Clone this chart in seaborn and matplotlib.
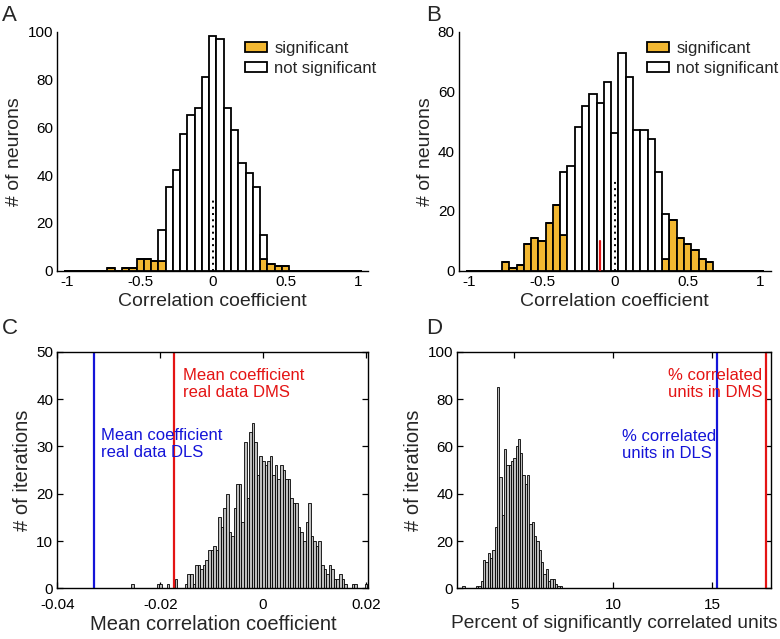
import numpy as np
import pandas as pd
import matplotlib
matplotlib.use("Agg")
import matplotlib.pyplot as plt
import seaborn as sns
from matplotlib.patches import Patch

sns.set_theme(style="white")
plt.rcParams["font.family"] = ["Liberation Sans", "DejaVu Sans"]

# ---------------- data ----------------
# Panel A: correlation coefficients (bin centres, counts)
a_bins = [-0.70, -0.65, -0.60, -0.55, -0.50, -0.45, -0.40, -0.35, -0.30, -0.25,
          -0.20, -0.15, -0.10, -0.05, 0.00, 0.05, 0.10, 0.15, 0.20, 0.25,
          0.30, 0.35, 0.40, 0.45, 0.50]
a_sig = [1, 0, 1, 1, 5, 5, 4, 4, 0, 0,
         0, 0, 0, 0, 0, 0, 0, 0, 0, 0,
         0, 5, 3, 2, 2]
a_nonsig = [0, 0, 0, 0, 0, 0, 0, 13, 35, 42,
            57, 65, 68, 81, 98, 97, 68, 59, 45, 41,
            35, 10, 0, 0, 0]

# Panel B
b_bins = [-0.75, -0.70, -0.65, -0.60, -0.55, -0.50, -0.45, -0.40, -0.35, -0.30,
          -0.25, -0.20, -0.15, -0.10, -0.05, 0.00, 0.05, 0.10, 0.15, 0.20,
          0.25, 0.30, 0.35, 0.40, 0.45, 0.50, 0.55, 0.60, 0.65]
b_sig = [3, 1, 2, 9, 11, 10, 16, 22, 12, 0,
         0, 0, 0, 0, 0, 0, 0, 0, 0, 0,
         0, 0, 4, 17, 11, 9, 7, 4, 3]
b_nonsig = [0, 0, 0, 0, 0, 0, 0, 0, 21, 35,
            48, 55, 59, 56, 63, 46, 73, 65, 47, 47,
            44, 33, 15, 0, 0, 0, 0, 0, 0]
b_mean = -0.1

# Panel C: shuffled mean correlation coefficients
c_start = -0.0257
c_width = 0.0005
c_counts = [1, 0, 0, 0, 0, 0, 0, 0, 0, 0,
            1, 1, 0, 0, 1, 0, 0, 2, 0, 0,
            0, 1, 3, 3, 1, 5, 5, 4, 5, 6,
            8, 8, 9, 8, 15, 13, 17, 20, 12, 11,
            17, 22, 22, 14, 31, 19, 33, 35, 31, 24,
            28, 27, 26, 27, 28, 24, 26, 23, 26, 25,
            23, 23, 19, 18, 18, 13, 12, 10, 14, 18,
            11, 10, 9, 10, 5, 4, 3, 5, 4, 2,
            2, 3, 2, 1, 0, 0, 1, 1, 0, 0,
            0, 1]
c_dls = -0.0328
c_dms = -0.0173

# Panel D: percent of significantly correlated units (shuffled)
d_start = 2.369
d_width = 0.117
d_counts = [1, 0, 0, 0, 0, 0, 1, 1, 3, 12,
            11, 15, 13, 16, 26, 85, 47, 31, 59, 52,
            52, 54, 55, 60, 63, 57, 48, 44, 48, 27,
            28, 22, 20, 16, 11, 6, 8, 3, 4, 4,
            2, 1, 1]
d_dls = 15.22
d_dms = 17.71

ORANGE = "#F2B731"
GRAY = "#BEBEBE"
BLUE = "#1414D8"
RED = "#E41414"
FS_TICK = 11
FS_LAB_TOP = 14
FS_LAB_BOT = 14.5
FS_TXT = 12

fig = plt.figure(figsize=(7.8, 6.39), dpi=100)
axA = fig.add_axes([0.0735, 0.5764, 0.3987, 0.374])
axB = fig.add_axes([0.5885, 0.5764, 0.3994, 0.374])
axC = fig.add_axes([0.0737, 0.0793, 0.3985, 0.3703])
axD = fig.add_axes([0.5863, 0.0793, 0.4018, 0.3703])


def corr_hist(ax, centers, sig, nonsig, ymax):
    n = len(centers)
    df = pd.DataFrame({
        "coef": list(centers) * 2,
        "count": list(sig) + list(nonsig),
        "group": ["significant"] * n + ["not significant"] * n,
    })
    sns.histplot(data=df, x="coef", weights="count", hue="group",
                 hue_order=["not significant", "significant"],
                 multiple="stack", binwidth=0.05, binrange=(-1.025, 1.025),
                 palette={"significant": ORANGE, "not significant": "white"},
                 edgecolor="black", linewidth=1.3, alpha=1, legend=False, ax=ax)
    ax.plot([0, 0], [0, 30], color="black", linestyle=(0, (1, 2.2)), lw=1.4)
    ax.set_xlim(-1.07, 1.07)
    ax.set_ylim(0, ymax)
    ax.set_xticks([-1, -0.5, 0, 0.5, 1])
    ax.set_xticklabels(["-1", "-0.5", "0", "0.5", "1"])
    ax.set_yticks(np.arange(0, ymax + 1, 20))
    ax.set_xlabel("Correlation coefficient", fontsize=FS_LAB_TOP, labelpad=3)
    ax.set_ylabel("# of neurons", fontsize=FS_LAB_TOP, labelpad=3)
    for s in ["top", "right"]:
        ax.spines[s].set_visible(False)
    handles = [Patch(facecolor=ORANGE, edgecolor="black", linewidth=1.3),
               Patch(facecolor="white", edgecolor="black", linewidth=1.3)]
    ax.legend(handles, ["significant", "not significant"], loc="upper left",
              bbox_to_anchor=(0.604, 0.962), frameon=False, fontsize=FS_TXT,
              borderpad=0, borderaxespad=0, handlelength=1.3, handleheight=0.6,
              handletextpad=0.45, labelspacing=0.3)


corr_hist(axA, a_bins, a_sig, a_nonsig, 100)
corr_hist(axB, b_bins, b_sig, b_nonsig, 80)
axB.plot([b_mean, b_mean], [0, 10], color=RED, lw=1.6)

# Panel C
c_centers = c_start + (np.arange(len(c_counts)) + 0.5) * c_width
sns.histplot(x=c_centers, weights=np.array(c_counts, dtype=float),
             binwidth=c_width, binrange=(c_start, c_start + len(c_counts) * c_width),
             color=GRAY, edgecolor="black", linewidth=0.6, alpha=1, ax=axC)
axC.axvline(c_dls, color=BLUE, lw=1.6)
axC.axvline(c_dms, color=RED, lw=1.6)
axC.set_xlim(-0.04, 0.0205)
axC.set_ylim(0, 50)
axC.set_xticks([-0.04, -0.02, 0, 0.02])
axC.set_xticklabels(["-0.04", "-0.02", "0", "0.02"])
axC.set_yticks(np.arange(0, 51, 10))
axC.set_xlabel("Mean correlation coefficient", fontsize=FS_LAB_BOT, labelpad=2)
axC.set_ylabel("# of iterations", fontsize=FS_LAB_BOT, labelpad=3)
axC.text(-0.01553, 46.6, "Mean coefficient\nreal data DMS", color=RED,
         fontsize=FS_TXT, va="top", ha="left")
axC.text(-0.03146, 33.9, "Mean coefficient\nreal data DLS", color=BLUE,
         fontsize=FS_TXT, va="top", ha="left")

# Panel D
d_centers = d_start + (np.arange(len(d_counts)) + 0.5) * d_width
sns.histplot(x=d_centers, weights=np.array(d_counts, dtype=float),
             binwidth=d_width, binrange=(d_start, d_start + len(d_counts) * d_width),
             color=GRAY, edgecolor="black", linewidth=0.6, alpha=1, ax=axD)
axD.axvline(d_dls, color=BLUE, lw=1.6)
axD.axvline(d_dms, color=RED, lw=1.6)
axD.set_xlim(2.12, 17.95)
axD.set_ylim(0, 100)
axD.set_xticks([5, 10, 15])
axD.set_yticks(np.arange(0, 101, 20))
axD.set_xlabel("Percent of significantly correlated units", fontsize=13.8,
               labelpad=2)
axD.set_ylabel("# of iterations", fontsize=FS_LAB_BOT, labelpad=3)
axD.text(12.76, 93.2, "% correlated\nunits in DMS", color=RED,
         fontsize=FS_TXT, va="top", ha="left")
axD.text(10.42, 67.4, "% correlated\nunits in DLS", color=BLUE,
         fontsize=FS_TXT, va="top", ha="left")

for ax in [axA, axB, axC, axD]:
    ax.tick_params(direction="in", length=4, width=0.9, labelsize=FS_TICK,
                   colors="black", pad=3)
    for s in ax.spines.values():
        s.set_color("black")
        s.set_linewidth(1.0)
for ax in [axC, axD]:
    ax.tick_params(top=True, right=True, bottom=True, left=True)
    ax.tick_params(axis="x", pad=7)

fig.text(0.003, 0.992, "A", fontsize=16, va="top")
fig.text(0.546, 0.992, "B", fontsize=16, va="top")
fig.text(0.003, 0.502, "C", fontsize=16, va="top")
fig.text(0.546, 0.502, "D", fontsize=16, va="top")

fig.savefig("out.png", dpi=100)
